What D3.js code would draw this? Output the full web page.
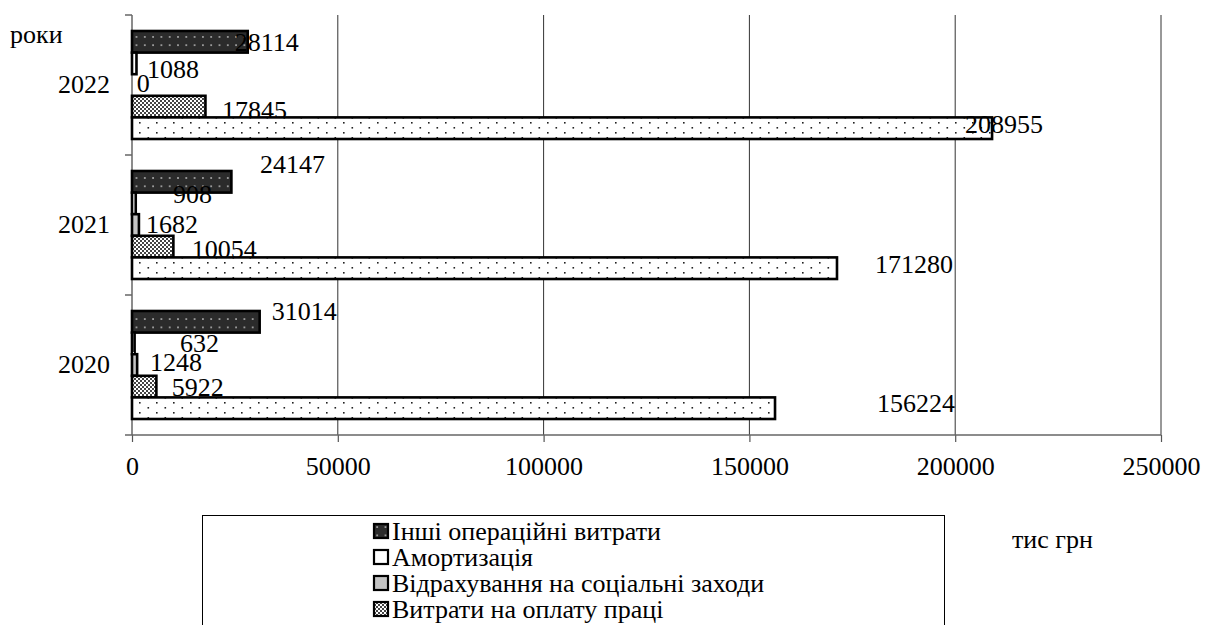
<!DOCTYPE html>
<html>
<head>
<meta charset="utf-8">
<script src="https://cdn.jsdelivr.net/npm/d3@7"></script>
<style>
  html, body { margin: 0; padding: 0; background: #fff; }
  svg { display: block; }
</style>
</head>
<body>
<svg id="chart" width="1205" height="625"></svg>
<script>
// Years (top to bottom) and the cost items, values in thousand UAH
const categories = ["2022", "2021", "2020"];
const seriesNames = [
  "Інші операційні витрати",
  "Амортизація",
  "Відрахування на соціальні заходи",
  "Витрати на оплату праці",
  "Матеріальні витрати"
];
const otherOperating = [28114, 24147, 31014];
const depreciation   = [1088, 908, 632];
const socialCharges  = [0, 1682, 1248];
const wages          = [17845, 10054, 5922];
const materials      = [208955, 171280, 156224];
const xTicks = [0, 50000, 100000, 150000, 200000, 250000];

const seriesValues = [otherOperating, depreciation, socialCharges, wages, materials];

// hand-placed label nudges [dx from bar end, dy from bar centre to baseline]
const labelNudge = [
  [[-13, 9], [28.6, -8.8], [12, -1.8]],
  [[10.5, 14.6], [37.3, -0.4], [45.4, 8.6]],
  [[4.7, 6.5], [7, 8], [12.9, 6]],
  [[16.6, 12], [18.3, 11.4], [15.3, 9.4]],
  [[-27, 5], [38, 4.8], [102, 3.5]]
];

const svg = d3.select("#chart");
const plot = { left: 132, right: 1161, top: 15, bottom: 435 };
const FONT = 26;
const SERIF = "Liberation Serif";

// fills
const defs = svg.append("defs");
const pDark = defs.append("pattern").attr("id", "p0")
  .attr("patternUnits", "userSpaceOnUse").attr("width", 8.3).attr("height", 8.3);
pDark.append("rect").attr("width", 8.3).attr("height", 8.3).attr("fill", "#2b2b2b");
pDark.append("rect").attr("x", 3).attr("y", 3).attr("width", 1.4).attr("height", 1.4).attr("fill", "#e8e8e8");

const pCheck = defs.append("pattern").attr("id", "p3")
  .attr("patternUnits", "userSpaceOnUse").attr("width", 4).attr("height", 4);
pCheck.append("rect").attr("width", 4).attr("height", 4).attr("fill", "#fff");
pCheck.append("rect").attr("x", 0).attr("y", 0).attr("width", 2).attr("height", 2).attr("fill", "#444");
pCheck.append("rect").attr("x", 2).attr("y", 2).attr("width", 2).attr("height", 2).attr("fill", "#444");

const pDots = defs.append("pattern").attr("id", "p4")
  .attr("patternUnits", "userSpaceOnUse").attr("width", 17).attr("height", 10);
pDots.append("rect").attr("width", 17).attr("height", 10).attr("fill", "#fff");
pDots.append("rect").attr("x", 3).attr("y", 2).attr("width", 1.6).attr("height", 1.6).attr("fill", "#222");
pDots.append("rect").attr("x", 11.5).attr("y", 7).attr("width", 1.6).attr("height", 1.6).attr("fill", "#222");

const fills = ["url(#p0)", "#ffffff", "#c4c4c4", "url(#p3)", "url(#p4)"];

// serif text helper
const serif = sel => sel.style("font-family", SERIF).style("font-size", FONT + "px").attr("fill", "#000");

// scales
const x = d3.scaleLinear().domain([0, 250000]).range([plot.left, plot.right]);
const y0 = d3.scaleBand().domain(categories).range([plot.top, plot.bottom]).padding(0);
const y1 = d3.scaleBand().domain(d3.range(seriesNames.length))
  .range([16, y0.bandwidth() - 16]).padding(0);

// gridlines
svg.append("g").selectAll("line").data(xTicks.slice(1)).join("line")
  .attr("x1", d => x(d)).attr("x2", d => x(d))
  .attr("y1", plot.top).attr("y2", plot.bottom)
  .attr("stroke", "#333").attr("stroke-width", 1);

// x axis
const xAxis = svg.append("g").attr("transform", `translate(0,${plot.bottom})`)
  .call(d3.axisBottom(x).tickValues(xTicks).tickFormat(d => String(d))
    .tickSize(7).tickPadding(14.5));
xAxis.select(".domain").remove();
xAxis.selectAll(".tick line").attr("stroke", "#555").attr("stroke-width", 1.2);
xAxis.selectAll("text").call(serif);

// y axis with ticks at category boundaries
const boundaries = categories.map(c => y0(c)).concat([plot.bottom]);
svg.append("g").selectAll("line").data(boundaries).join("line")
  .attr("x1", plot.left - 7).attr("x2", plot.left)
  .attr("y1", d => d).attr("y2", d => d)
  .attr("stroke", "#666").attr("stroke-width", 1.5);
svg.append("line").attr("x1", plot.left).attr("x2", plot.right)
  .attr("y1", plot.bottom).attr("y2", plot.bottom)
  .attr("stroke", "#666").attr("stroke-width", 1.5);
svg.append("line").attr("x1", plot.left).attr("x2", plot.left)
  .attr("y1", plot.top).attr("y2", plot.bottom)
  .attr("stroke", "#666").attr("stroke-width", 1.5);

// category labels
svg.append("g").selectAll("text").data(categories).join("text")
  .attr("x", 110).attr("y", d => y0(d) + y0.bandwidth() / 2 + 8)
  .attr("text-anchor", "end").call(serif).text(d => d);

// bars and their value labels, one series at a time
seriesValues.forEach((vals, si) => {
  const g = svg.append("g");
  g.selectAll("rect").data(categories.map((c, ci) => ({ c, v: vals[ci] })).filter(d => d.v > 0))
    .join("rect")
    .attr("x", x(0))
    .attr("y", d => y0(d.c) + y1(si))
    .attr("width", d => x(d.v) - x(0))
    .attr("height", y1.bandwidth())
    .attr("fill", fills[si])
    .attr("stroke", "#000").attr("stroke-width", 2.6);
  g.selectAll("text").data(categories.map((c, ci) => ({ c, ci, v: vals[ci] }))).join("text")
    .attr("x", d => x(d.v) + labelNudge[si][d.ci][0])
    .attr("y", d => y0(d.c) + y1(si) + y1.bandwidth() / 2 + labelNudge[si][d.ci][1])
    .call(serif)
    .text(d => d.v);
});

// axis captions
svg.append("text").attr("x", 10).attr("y", 43).call(serif).text("роки");
svg.append("text").attr("x", 1012).attr("y", 548).call(serif).text("тис грн");

// legend
const legend = svg.append("g");
legend.append("rect").attr("x", 202.5).attr("y", 515.5).attr("width", 742).attr("height", 200)
  .attr("fill", "none").attr("stroke", "#000").attr("stroke-width", 1);
const items = legend.selectAll("g.item").data(seriesNames).join("g").attr("class", "item")
  .attr("transform", (d, i) => `translate(0,${540 + i * 26})`);
items.append("rect").attr("x", 374).attr("y", -16).attr("width", 14).attr("height", 14)
  .attr("fill", (d, i) => fills[i]).attr("stroke", "#000").attr("stroke-width", 2.2);
items.append("text").attr("x", 392).attr("y", 0).call(serif).text(d => d);
</script>
</body>
</html>
